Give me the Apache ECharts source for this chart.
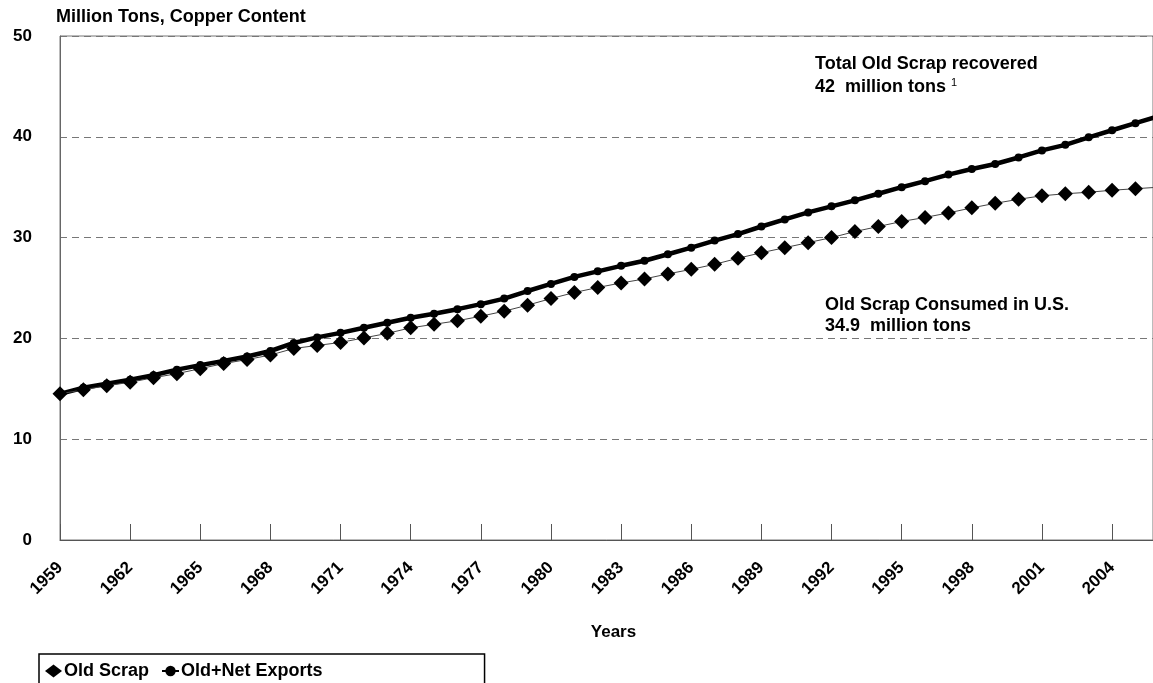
<!DOCTYPE html>
<html>
<head>
<meta charset="utf-8">
<script src="https://cdn.jsdelivr.net/npm/echarts@6/dist/echarts.min.js"></script>
<style>
html,body{margin:0;padding:0;background:#fff;}
#chart{width:1153px;height:683px;}
</style>
</head>
<body>
<div id="chart"></div>
<script>
// ---- data ----
const years = [1959,1960,1961,1962,1963,1964,1965,1966,1967,1968,1969,1970,1971,1972,1973,1974,1975,1976,1977,1978,1979,1980,1981,1982,1983,1984,1985,1986,1987,1988,1989,1990,1991,1992,1993,1994,1995,1996,1997,1998,1999,2000,2001,2002,2003,2004,2005,2006];
const oldScrap = [14.5,14.9,15.3,15.65,16.1,16.5,17.0,17.5,17.9,18.35,19.0,19.3,19.6,20.05,20.5,21.05,21.4,21.75,22.2,22.7,23.3,23.95,24.55,25.05,25.5,25.9,26.4,26.85,27.35,27.95,28.5,29.0,29.5,30.0,30.6,31.1,31.6,32.0,32.45,32.95,33.4,33.8,34.15,34.35,34.5,34.7,34.85,35.0];
const oldPlusNetExports = [14.5,15.1,15.5,15.9,16.35,16.9,17.35,17.75,18.2,18.75,19.55,20.1,20.55,21.05,21.55,22.05,22.45,22.9,23.4,23.95,24.7,25.4,26.1,26.65,27.2,27.7,28.35,29.0,29.7,30.35,31.1,31.8,32.5,33.1,33.7,34.35,35.0,35.6,36.25,36.8,37.3,37.95,38.65,39.2,39.95,40.65,41.35,42.05];
const seriesNames = ['Old Scrap','Old+Net Exports'];
const yTicks = [0,10,20,30,40,50];
const xTickStart = 1959, xTickStep = 3;

const FONT = "'Liberation Sans', Arial, Helvetica, sans-serif";
const chart = echarts.init(document.getElementById('chart'), null, {renderer:'canvas'});

const pairs = (vals) => years.map((y,i) => [y, vals[i]]);

chart.setOption({
  backgroundColor:'#ffffff',
  animation:false,
  title:{
    text:'Million Tons, Copper Content',
    left:56, top:8, padding:0,
    textStyle:{fontFamily:FONT, fontWeight:'bold', fontSize:18, color:'#000'}
  },
  grid:{left:60, right:-2, top:36, bottom:143, show:true, borderColor:'#777', borderWidth:1, containLabel:false},
  xAxis:{
    type:'value',
    min:xTickStart, max:2005.75, interval:xTickStep,
    name:'Years', nameLocation:'middle', nameGap:84,
    nameTextStyle:{fontFamily:FONT, fontWeight:'bold', fontSize:17, color:'#000', padding:[0,0,0,14]},
    axisLine:{show:true, lineStyle:{color:'#555', width:1}},
    axisTick:{show:true, inside:true, length:16, lineStyle:{color:'#555', width:1}},
    splitLine:{show:false},
    axisLabel:{
      rotate:45, margin:25, showMaxLabel:false,
      fontFamily:FONT, fontWeight:'bold', fontSize:17, color:'#000',
      formatter:(v)=> (Number.isInteger(v) ? String(v) : '')
    }
  },
  yAxis:{
    type:'value', min:yTicks[0], max:yTicks[yTicks.length-1], interval:10,
    axisLine:{show:true, lineStyle:{color:'#666', width:1}},
    axisTick:{show:false},
    splitLine:{show:true, lineStyle:{color:'#777', width:1, type:[7,5]}},
    axisLabel:{margin:28, fontFamily:FONT, fontWeight:'bold', fontSize:17, color:'#000'}
  },
  legend:{
    left:39, top:654, orient:'horizontal',
    data:[{name:seriesNames[0], icon:'diamond'}, {name:seriesNames[1]}],
    itemWidth:17, itemHeight:13, itemGap:12,
    padding:[8,162,12,6],
    borderColor:'#000', borderWidth:1.5, borderRadius:0,
    textStyle:{fontFamily:FONT, fontWeight:'bold', fontSize:18, color:'#000', padding:[0,0,0,-3]}
  },
  series:[
    {
      name:seriesNames[1], type:'line', data:pairs(oldPlusNetExports),
      symbol:'circle', symbolSize:8, showAllSymbol:true,
      itemStyle:{color:'#000'},
      lineStyle:{color:'#000', width:4.5},
      z:3, clip:true
    },
    {
      name:seriesNames[0], type:'line', data:pairs(oldScrap),
      symbol:'diamond', symbolSize:15, showAllSymbol:true,
      itemStyle:{color:'#000'},
      lineStyle:{color:'#444', width:1},
      z:4, clip:true
    }
  ],
  graphic:[
    {type:'text', left:815, top:55, style:{text:'Total Old Scrap recovered', font:"bold 18px "+FONT, fill:'#000'}},
    {type:'text', left:815, top:78, style:{text:'42  million tons', font:"bold 18px "+FONT, fill:'#000'}},
    {type:'text', left:951, top:77, style:{text:'1', font:"11px "+FONT, fill:'#000'}},
    {type:'text', left:825, top:296, style:{text:'Old Scrap Consumed in U.S.', font:"bold 18px "+FONT, fill:'#000'}},
    {type:'text', left:825, top:317, style:{text:'34.9  million tons', font:"bold 18px "+FONT, fill:'#000'}}
  ]
});
</script>
</body>
</html>
